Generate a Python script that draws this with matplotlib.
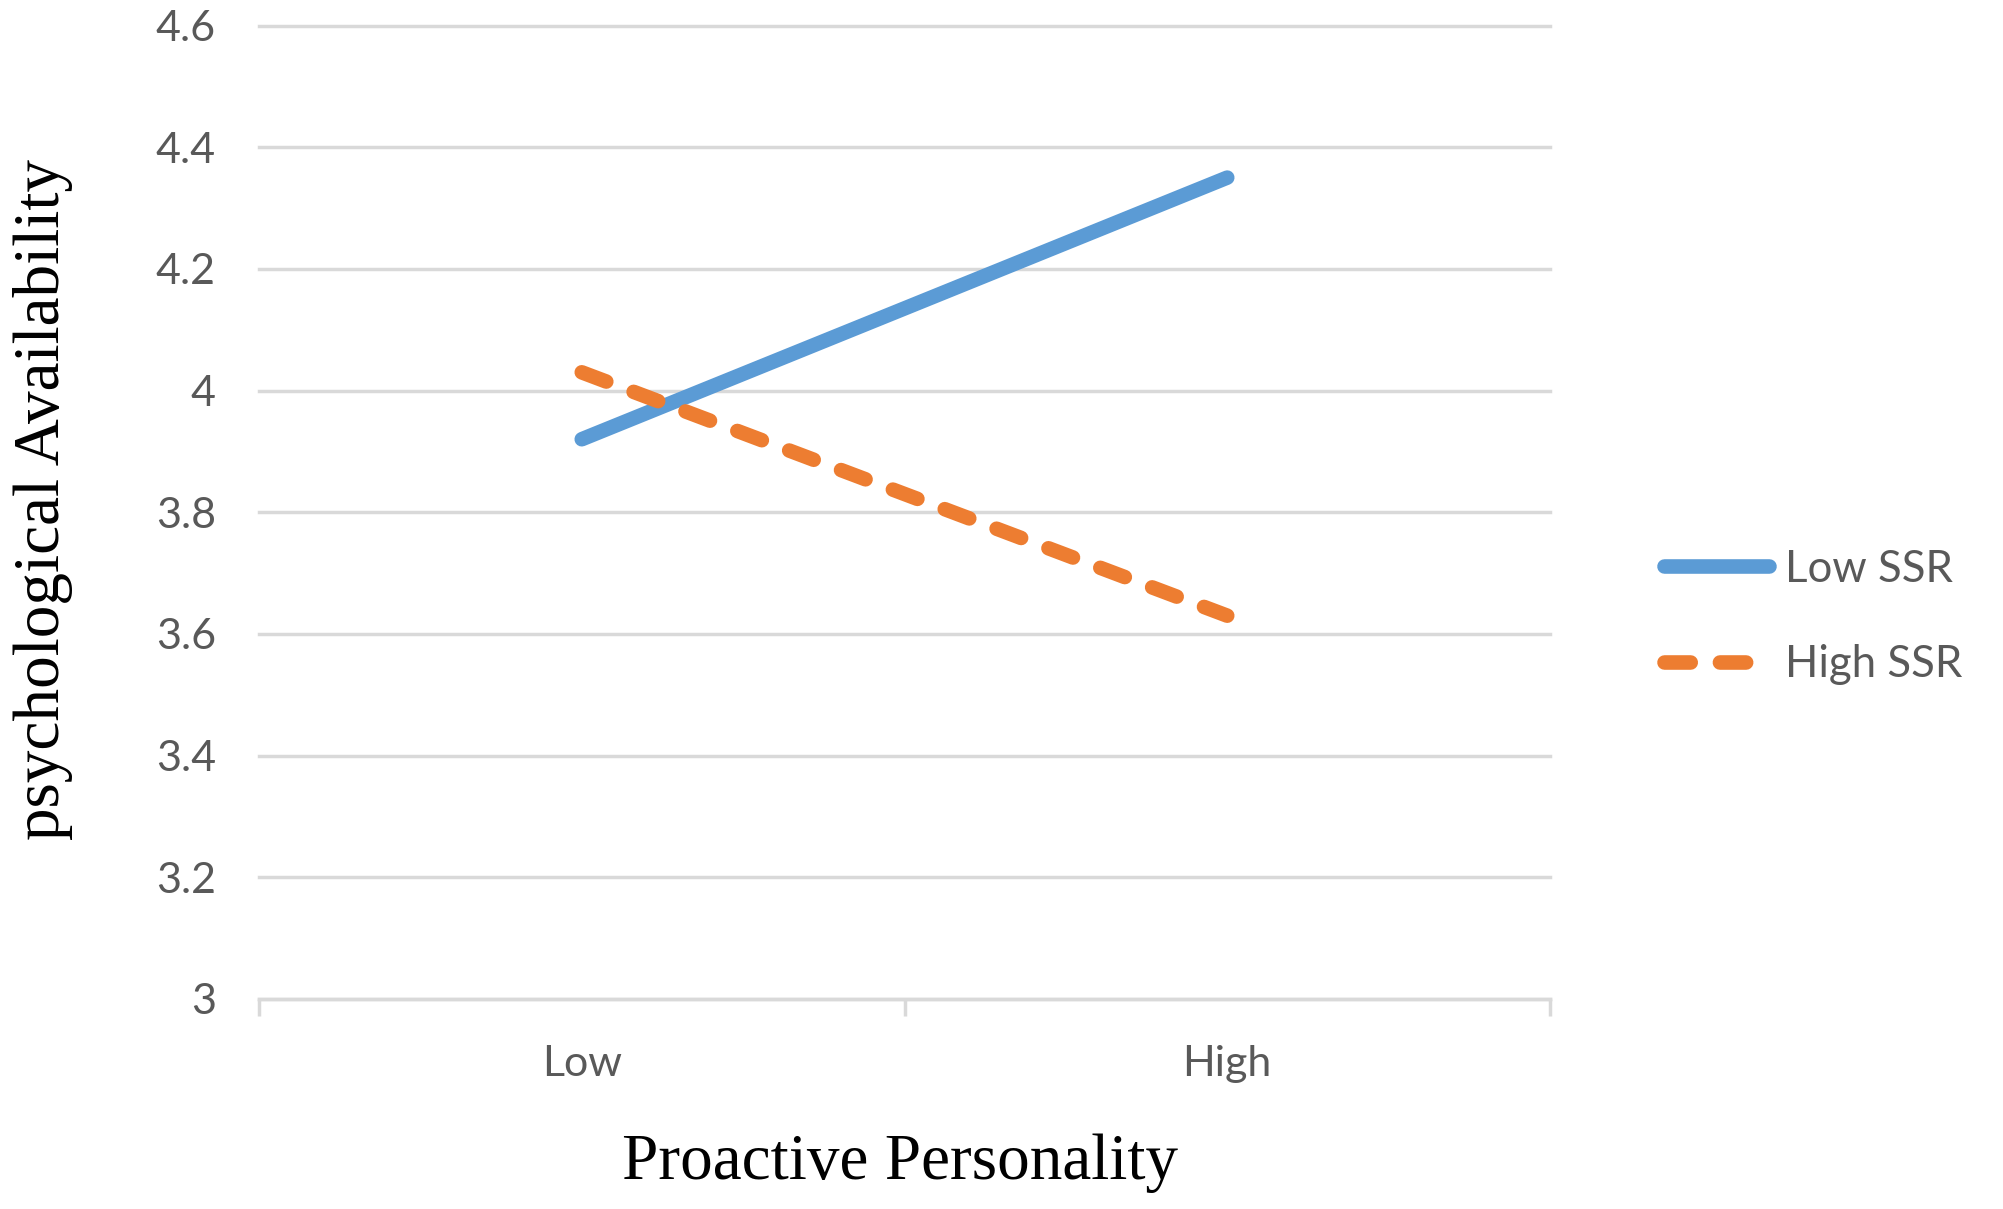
import matplotlib
matplotlib.use("Agg")
import matplotlib.pyplot as plt
from matplotlib.ticker import FixedLocator

categories = ["Low", "High"]
low_ssr = [3.92, 4.35]
high_ssr = [4.03, 3.63]
series_names = ["Low SSR", "High SSR"]
y_ticks = [3.0, 3.2, 3.4, 3.6, 3.8, 4.0, 4.2, 4.4, 4.6]
y_tick_labels = ["3", "3.2", "3.4", "3.6", "3.8", "4", "4.2", "4.4", "4.6"]
x_label = "Proactive Personality"
y_label = "psychological Availability"

W, H = 2003, 1209
fig = plt.figure(figsize=(W / 100, H / 100), dpi=100)
ax = fig.add_axes([259 / W, 1 - 999 / H, (1550 - 259) / W, (999 - 25.5) / H])

blue = "#5B9BD5"
orange = "#ED7D31"
grid_c = "#D9D9D9"
txt_c = "#595959"
sans = ["Lato", "DejaVu Sans"]
serif = ["Liberation Serif", "DejaVu Serif"]

x = list(range(len(categories)))
ax.plot(x, low_ssr, color=blue, lw=10.5, solid_capstyle="round", label=series_names[0], zorder=3)
ax.plot(x, high_ssr, color=orange, lw=10.5, dash_capstyle="round",
        dashes=(1.8, 2.0), label=series_names[1], zorder=3)

ax.set_xlim(-0.5, 1.5)
ax.set_ylim(3.0, 4.6)
ax.set_yticks(y_ticks)
ax.set_yticklabels(y_tick_labels, fontfamily=sans, fontsize=31, color=txt_c)
ax.set_xticks(x)
ax.set_xticklabels(categories, fontfamily=sans, fontsize=31, color=txt_c)
ax.xaxis.set_minor_locator(FixedLocator([-0.5, 0.5, 1.5]))
ax.tick_params(axis="x", which="major", length=0, pad=33)
ax.tick_params(axis="x", which="minor", length=12, width=2.5, color=grid_c, direction="out")
ax.tick_params(axis="y", length=0, pad=31)

for s in ["top", "right", "left"]:
    ax.spines[s].set_visible(False)
ax.spines["bottom"].set_color(grid_c)
ax.spines["bottom"].set_linewidth(2.5)

ax.grid(axis="y", color=grid_c, lw=2.5, zorder=0)
ax.set_axisbelow(True)
for gl in ax.get_ygridlines():
    gl.set_clip_on(False)

fig.text(900 / W, 1 - 1163 / H, x_label, ha="center", va="center",
         fontfamily=serif, fontsize=47, color="black")
fig.text(43 / W, 1 - 500 / H, y_label, ha="center", va="center", rotation=90,
         fontfamily=serif, fontsize=47, color="black")

leg = fig.legend(loc="center left", bbox_to_anchor=(1625 / W, 1 - 617 / H),
                 frameon=False, prop={"family": sans, "size": 31.5},
                 handlelength=2.4, handletextpad=0.35, labelspacing=1.25)
for t in leg.get_texts():
    t.set_color(txt_c)

fig.savefig("out.png", dpi=100, facecolor="white")
